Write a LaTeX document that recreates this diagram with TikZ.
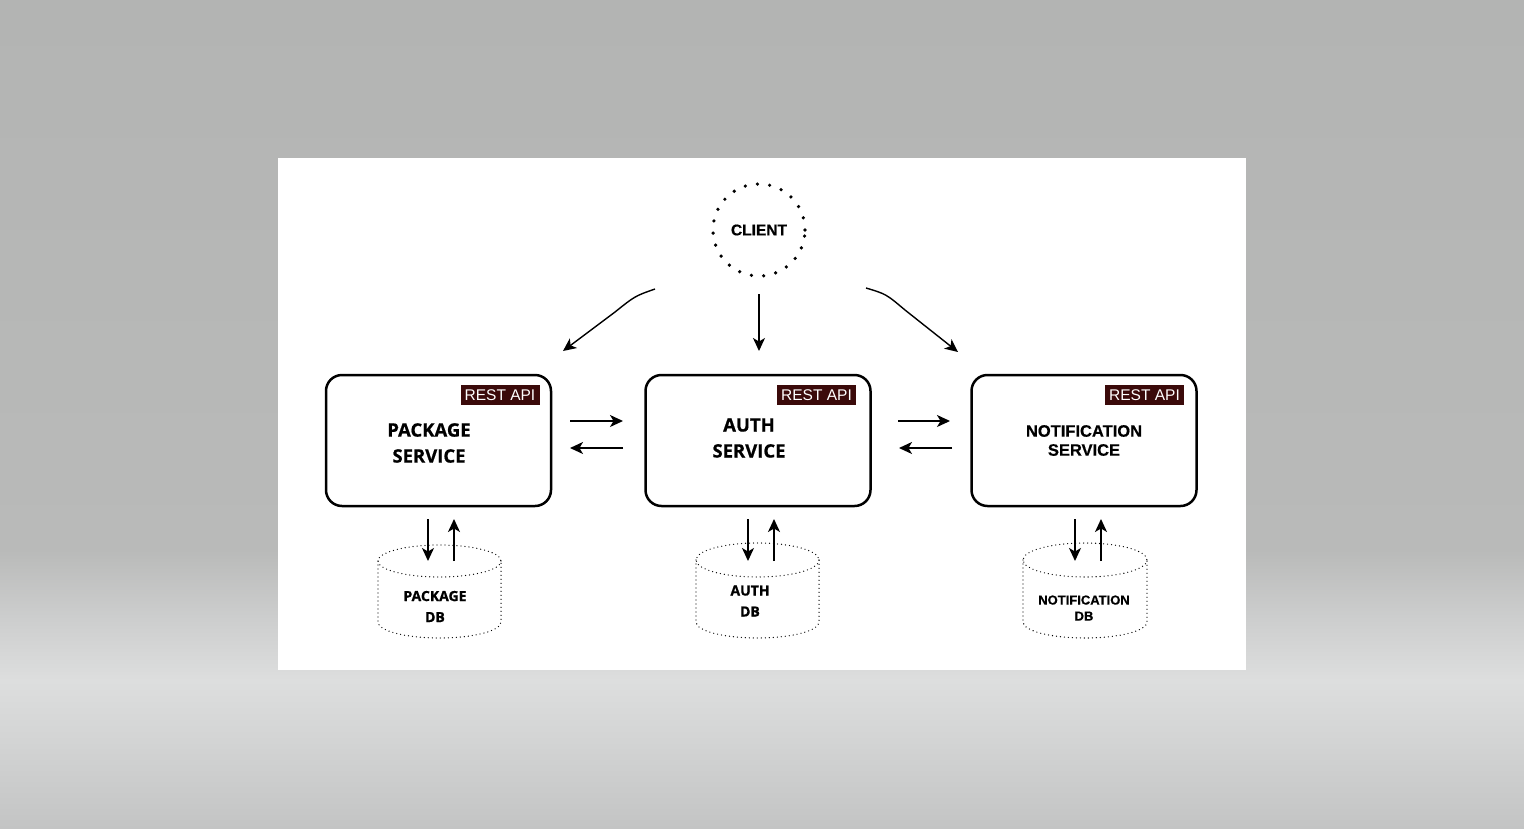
\documentclass[tikz,border=0pt]{standalone}
\usepackage{fontspec}
\setmainfont{Liberation Sans}[BoldFont={Liberation Sans Bold}, BoldFeatures={FakeBold=0.6}]
\newfontfamily\osans{Open Sans}[BoldFont={Open Sans Bold}, BoldFeatures={FakeBold=0.8}]
\usetikzlibrary{arrows.meta,calc}
\definecolor{bgA}{HTML}{C3C4C4}
\definecolor{bgB}{HTML}{D3D4D4}
\definecolor{bgC}{HTML}{DDDEDE}
\definecolor{bgD}{HTML}{CDCECE}
\definecolor{bgE}{HTML}{B9BAB9}
\definecolor{bgF}{HTML}{B3B4B3}
\definecolor{restred}{HTML}{3B0A0A}
\pgfdeclareverticalshading{bgshade}{100bp}{color(0bp)=(bgA); color(25bp)=(bgA); color(30.3bp)=(bgB); color(33.9bp)=(bgC); color(37.6bp)=(bgD); color(41.8bp)=(bgE); color(75bp)=(bgF); color(100bp)=(bgF)}
\tikzset{
  svc/.style={draw, line width=2.5pt, rounded corners=16pt, minimum width=225pt, minimum height=131pt, fill=white, inner sep=0pt},
  rest/.style={fill=restred, text=white, font=\fontsize{15.5}{18}\selectfont, minimum width=79pt, minimum height=20pt, inner sep=0pt},
  arr/.style={-{Stealth[length=13pt,width=12pt,inset=3.5pt]}, line width=1.4pt},
  dbline/.style={line width=1.3pt, dash pattern=on 0pt off 4pt, line cap=round},
  svctxt/.style={align=center, inner sep=0pt, font=\osans\bfseries\fontsize{18.5}{26}\selectfont},
  dbtxt/.style={align=center, inner sep=0pt, font=\osans\bfseries\fontsize{14}{21}\selectfont},
}
\begin{document}
\begin{tikzpicture}[x=1pt,y=-1pt]
\useasboundingbox (0,0) rectangle (1524,828);
\shade[shading=bgshade] (0,0) rectangle (1524,828);
\fill[white] (278,158) rectangle (1246,670);

% client
\node[circle, minimum size=92pt, inner sep=0pt, draw, line width=3.6pt, dash pattern=on 0pt off 12.3pt, line cap=round,
  font=\bfseries\fontsize{15.5}{18}\selectfont] (client) at (759,230) {CLIENT};

% services
\node[svc] (pkg) at (438.5,440.5) {};
\node[svc] (auth) at (758,440.5) {};
\node[svc] (notif) at (1084,440.5) {};

\node[svctxt] (pkgtxt) at (429,443) {PACKAGE\\SERVICE};
\node[svctxt] (authtxt) at (749,438) {AUTH\\SERVICE};
\node[align=center, inner sep=0pt, font=\bfseries\fontsize{16.5}{19}\selectfont] (notiftxt) at (1084,440.5) {NOTIFICATION\\SERVICE};

\node[rest] (pkgrest) at (500,395) {REST API};
\node[rest] (authrest) at (816.5,395) {REST API};
\node[rest] (notifrest) at (1144.5,395) {REST API};

% databases
\draw[dbline] (439.5,561) ellipse [x radius=61.5, y radius=16];
\draw[dbline] (378,561) -- (378,622) arc[start angle=180,end angle=0,x radius=61.5,y radius=16] -- (501,561);
\draw[dbline] (757.5,560) ellipse [x radius=61.5, y radius=17];
\draw[dbline] (696,560) -- (696,622) arc[start angle=180,end angle=0,x radius=61.5,y radius=16] -- (819,560);
\draw[dbline] (1085,560) ellipse [x radius=62, y radius=17];
\draw[dbline] (1023,560) -- (1023,622) arc[start angle=180,end angle=0,x radius=62,y radius=16] -- (1147,560);

\node[dbtxt] (pkgdb) at (435,606.5) {PACKAGE\\DB};
\node[dbtxt] (authdb) at (750,601) {AUTH\\DB};
\node[align=center, inner sep=0pt, font=\bfseries\fontsize{13}{16}\selectfont] (notifdb) at (1084,608) {NOTIFICATION\\DB};

% coordinates for arrow ends
\coordinate (cl1) at (655,289); \coordinate (cl1a) at (635,296); \coordinate (cl1b) at (615,312); \coordinate (pk1) at (563,351);
\coordinate (cl2) at (759,294); \coordinate (au1) at (759,351);
\coordinate (cl3) at (866,288); \coordinate (cl3a) at (886,294); \coordinate (cl3b) at (905,310); \coordinate (nt1) at (958,352);

\coordinate (pa1) at (570,421); \coordinate (pa2) at (623,421);
\coordinate (pa3) at (623,448); \coordinate (pa4) at (570,448);
\coordinate (an1) at (898,421); \coordinate (an2) at (950,421);
\coordinate (an3) at (952,448); \coordinate (an4) at (899,448);

\coordinate (pd1) at (428,519); \coordinate (pd2) at (428,561);
\coordinate (pu1) at (454,561); \coordinate (pu2) at (454,519);
\coordinate (ad1) at (748,519); \coordinate (ad2) at (748,561);
\coordinate (au2) at (774,561); \coordinate (au3) at (774,519);
\coordinate (nd1) at (1075,519); \coordinate (nd2) at (1075,561);
\coordinate (nu1) at (1101,561); \coordinate (nu2) at (1101,519);

% client arrows
\draw[arr] (cl1) .. controls (cl1a) .. (cl1b) -- (pk1);
\draw[arr] (cl2) -- (au1);
\draw[arr] (cl3) .. controls (cl3a) .. (cl3b) -- (nt1);

% service arrows
\draw[arr] (pa1) -- (pa2);
\draw[arr] (pa3) -- (pa4);
\draw[arr] (an1) -- (an2);
\draw[arr] (an3) -- (an4);

% db arrows
\draw[arr] (pd1) -- (pd2);
\draw[arr] (pu1) -- (pu2);
\draw[arr] (ad1) -- (ad2);
\draw[arr] (au2) -- (au3);
\draw[arr] (nd1) -- (nd2);
\draw[arr] (nu1) -- (nu2);
\end{tikzpicture}
\end{document}
